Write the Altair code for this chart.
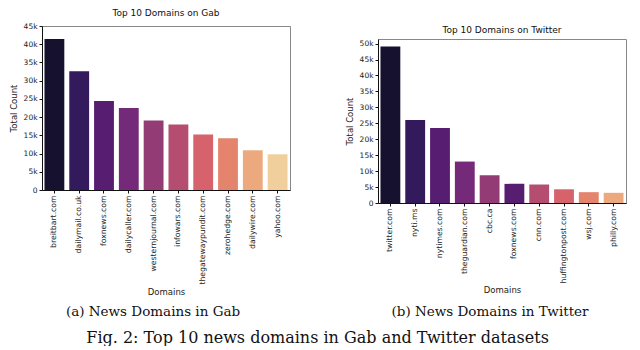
import altair as alt
import pandas as pd

gab_domains = ["breitbart.com", "dailymail.co.uk", "foxnews.com", "dailycaller.com",
               "westernjournal.com", "infowars.com", "thegatewaypundit.com",
               "zerohedge.com", "dailywire.com", "yahoo.com"]
gab_counts = [41400, 32600, 24400, 22500, 19100, 18000, 15200, 14200, 10900, 9800]

tw_domains = ["twitter.com", "nyti.ms", "nytimes.com", "theguardian.com", "cbc.ca",
              "foxnews.com", "cnn.com", "huffingtonpost.com", "wsj.com", "philly.com"]
tw_counts = [49100, 26000, 23500, 13000, 8700, 6000, 5800, 4300, 3400, 3200]

palette = ["#16112f", "#331a5c", "#561d70", "#752a79", "#933b75",
           "#b54d70", "#d6636c", "#e5846d", "#eda97e", "#f1cf9c"]

gab_ticks = [0, 5000, 10000, 15000, 20000, 25000, 30000, 35000, 40000, 45000]
tw_ticks = [0, 5000, 10000, 15000, 20000, 25000, 30000, 35000, 40000, 45000, 50000]

titles = ["Top 10 Domains on Gab", "Top 10 Domains on Twitter"]
captions = ["(a) News Domains in Gab", "(b) News Domains in Twitter"]
fig_caption = "Fig. 2: Top 10 news domains in Gab and Twitter datasets"

SANS = "DejaVu Sans"
SERIF = "DejaVu Serif"
PW, PH = 248, 164


def panel(domains, counts, ymax, ticks, title):
    df = pd.DataFrame({"domain": domains, "count": counts})
    return alt.Chart(df).mark_bar().encode(
        x=alt.X("domain:N", sort=domains,
                scale=alt.Scale(paddingInner=0.2, paddingOuter=0.1),
                axis=alt.Axis(title="Domains", labelAngle=270, labelFontSize=7.7,
                              labelFont=SANS, labelColor="#222", titleFont=SANS,
                              titleFontSize=8.5, titleFontWeight="normal",
                              titleColor="#222", tickSize=3, domainColor="#111",
                              tickColor="#111", labelPadding=2, titlePadding=3)),
        y=alt.Y("count:Q", scale=alt.Scale(domain=[0, ymax], nice=False, zero=True),
                axis=alt.Axis(title="Total Count", values=ticks,
                              labelExpr="datum.value == 0 ? '0' : (datum.value / 1000) + 'k'",
                              labelFontSize=7.5, labelFont=SANS, labelColor="#222",
                              titleFont=SANS, titleFontSize=8.5, titleFontWeight="normal",
                              titleColor="#222", tickSize=3, domainColor="#111",
                              tickColor="#111", grid=False, labelPadding=2,
                              titlePadding=5)),
        color=alt.Color("domain:N", scale=alt.Scale(domain=domains, range=palette),
                        legend=None),
    ).properties(
        width=PW, height=PH,
        title=alt.TitleParams(title, font=SANS, fontSize=9, fontWeight="normal",
                              color="#111", offset=4),
    )


def blank(width, title=None):
    props = dict(width=width, height=1,
                 view=alt.ViewBackground(stroke="transparent"))
    if title is not None:
        props["title"] = alt.TitleParams(title, font=SERIF, fontSize=13.5,
                                         fontWeight="normal", color="#111",
                                         offset=0, anchor="middle")
    return alt.Chart(pd.DataFrame({"t": [""]})).mark_text().encode(
        text="t:N").properties(**props)


left = panel(gab_domains, gab_counts, 45000, gab_ticks, titles[0])
right = panel(tw_domains, tw_counts, 51450, tw_ticks, titles[1])
right_col = alt.vconcat(blank(PW), right, spacing=12, bounds="flush")

chart = alt.concat(
    left, right_col, blank(222, captions[0]), blank(224, captions[1]),
    columns=2, bounds="flush", spacing={"row": 134, "column": 88},
).properties(
    title=alt.TitleParams(fig_caption, orient="bottom", font=SERIF, fontSize=16,
                          fontWeight="normal", color="#111", offset=0,
                          anchor="middle"),
    padding=0,
).configure_view(stroke="#888", strokeWidth=1)

chart.save("out.html", embed_options={"renderer": "svg", "actions": False})
